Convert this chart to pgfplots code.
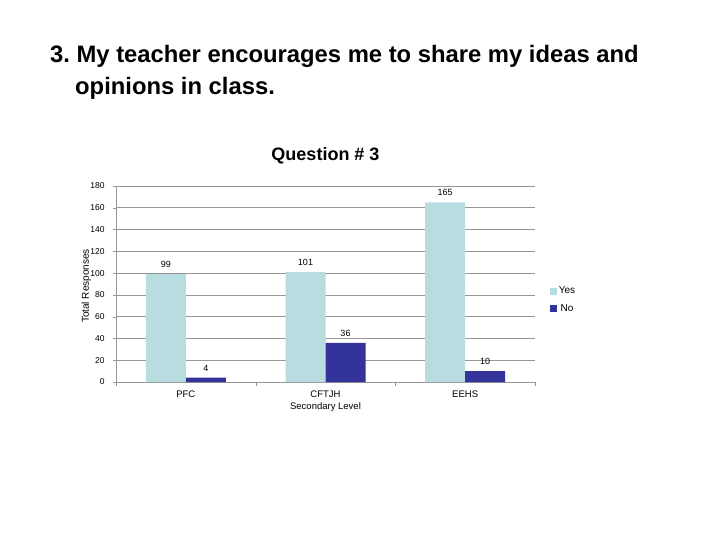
\documentclass[border=0pt]{standalone}
\usepackage{fontspec}
\setmainfont{Liberation Sans}
\usepackage{pgfplots}
\pgfplotsset{compat=1.18}

\definecolor{yesblue}{RGB}{183,221,224}
\definecolor{nonavy}{RGB}{51,51,153}
\definecolor{gridgray}{RGB}{150,150,150}

\begin{document}
\frenchspacing
\begin{tikzpicture}
\path[use as bounding box] (0,0) rectangle (720bp,-540bp);
% slide heading
\node[anchor=base west, inner sep=0pt, font=\fontsize{23.8bp}{28bp}\selectfont\bfseries]
  at (50bp,-62bp) {3. My teacher encourages me to share my ideas and};
\node[anchor=base west, inner sep=0pt, font=\fontsize{23.8bp}{28bp}\selectfont\bfseries]
  at (75bp,-94bp) {opinions in class.};
\begin{axis}[
    at={(116bp,-382bp)}, anchor=south west,
    scale only axis, width=419bp, height=196bp,
    ybar=0pt, bar width=40bp,
    ymin=0, ymax=180, ytick distance=20,
    xmin=-0.5, xmax=2.5,
    xtick={0,1,2},
    xticklabels={PFC, {CFTJH\\Secondary Level}, EEHS},
    minor xtick={-0.5,0.5,1.5,2.5},
    major x tick style={draw=none},
    minor tick length=4bp, major tick length=3bp,
    tick align=outside,
    tick style={gridgray},
    axis x line*=bottom, axis y line*=left,
    axis line style={gridgray, -},
    ymajorgrids, grid style={gridgray, line width=0.6pt},
    /pgf/number format/assume math mode=true,
    yticklabel style={font=\fontsize{8.5bp}{11bp}\selectfont, xshift=-5bp},
    xticklabel style={font=\fontsize{9.5bp}{12bp}\selectfont, align=center, yshift=-2bp},
    ylabel={Total Responses},
    ylabel style={font=\fontsize{10bp}{12bp}\selectfont, at={(axis description cs:-0.071,0.49)}, anchor=center},
    title={Question \# 3},
    title style={font=\fontsize{18bp}{21bp}\selectfont\bfseries, at={(axis description cs:0.5,1.122)}, anchor=center},
    nodes near coords,
    every node near coord/.append style={font=\fontsize{9bp}{10bp}\selectfont, yshift=3bp},
    legend style={draw=none, at={(axis description cs:1.028,0.42)}, anchor=west,
      font=\fontsize{10bp}{12bp}\selectfont, row sep=5bp},
    legend image code/.code={\fill[#1] (0bp,-3.5bp) rectangle (7bp,3.5bp);},
]
\addplot[fill=yesblue, draw=none] coordinates {(0,99) (1,101) (2,165)};
\addplot[fill=nonavy, draw=none] coordinates {(0,4) (1,36) (2,10)};
\legend{Yes, No}
\end{axis}
\end{tikzpicture}
\end{document}
